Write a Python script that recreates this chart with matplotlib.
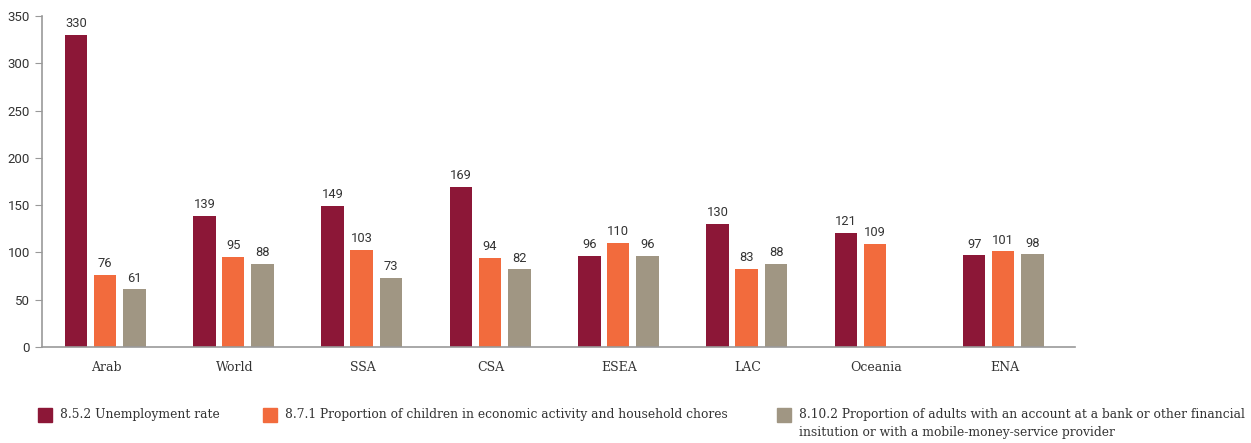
import matplotlib.pyplot as plt
from matplotlib.patches import Rectangle
import numpy as np

regions = ['Arab', 'World', 'SSA', 'CSA', 'ESEA', 'LAC', 'Oceania', 'ENA']
unemployment = [330, 139, 149, 169, 96, 130, 121, 97]
children = [76, 95, 103, 94, 110, 83, 109, 101]
accounts = [61, 88, 73, 82, 96, 88, None, 98]

series_names = ['8.5.2 Unemployment rate',
                '8.7.1 Proportion of children in economic activity and household chores',
                '8.10.2 Proportion of adults with an account at a bank or other financial\n'
                'insitution or with a mobile-money-service provider']
colors = ['#8c1737', '#f26b3d', '#a09683']

serif = ['DejaVu Serif']
sans = ['Roboto', 'DejaVu Sans']

fig = plt.figure(figsize=(12.51, 4.43), dpi=100)
ax = fig.add_axes([42 / 1251, 1 - 347 / 443, (1075 - 42) / 1251, (347 - 16) / 443])

x = np.arange(len(regions))
w = 0.175
offsets = [-0.235, -0.01, 0.22]
for vals, off, c in zip([unemployment, children, accounts], offsets, colors):
    xs = [xi + off for xi, v in zip(x, vals) if v is not None]
    vs = [v for v in vals if v is not None]
    bars = ax.bar(xs, vs, width=w, color=c, edgecolor='none')
    for b, v in zip(bars, vs):
        ax.text(b.get_x() + b.get_width() / 2, v + 5, str(v), ha='center', va='bottom',
                fontsize=9.3, color='#333333', family=sans)

ax.set_xlim(-0.5, 7.55)
ax.set_ylim(0, 350)
ax.set_yticks(range(0, 351, 50))
ax.set_xticks(x)
ax.set_xticklabels(regions, family=serif, fontsize=9, color='#333333')
ax.set_yticklabels([str(v) for v in range(0, 351, 50)], family=sans, fontsize=9.5,
                   stretch='normal', color='#333333')
ax.tick_params(axis='x', length=0, pad=10)
ax.tick_params(axis='y', length=5, color='#999999')
for s in ['top', 'right']:
    ax.spines[s].set_visible(False)
for s in ['left', 'bottom']:
    ax.spines[s].set_color('#999999')
    ax.spines[s].set_linewidth(1.2)

# legend
leg_x = [38, 263, 777]
for lx, c, name in zip(leg_x, colors, series_names):
    fig.patches.append(Rectangle((lx / 1251, 1 - 422 / 443), 14 / 1251, 14 / 443,
                                 transform=fig.transFigure, color=c))
    fig.text((lx + 22) / 1251, 1 - 408 / 443, name, ha='left', va='top',
             fontsize=8.8, family=serif, color='#333333', linespacing=1.5)

fig.savefig('out.png', dpi=100)
